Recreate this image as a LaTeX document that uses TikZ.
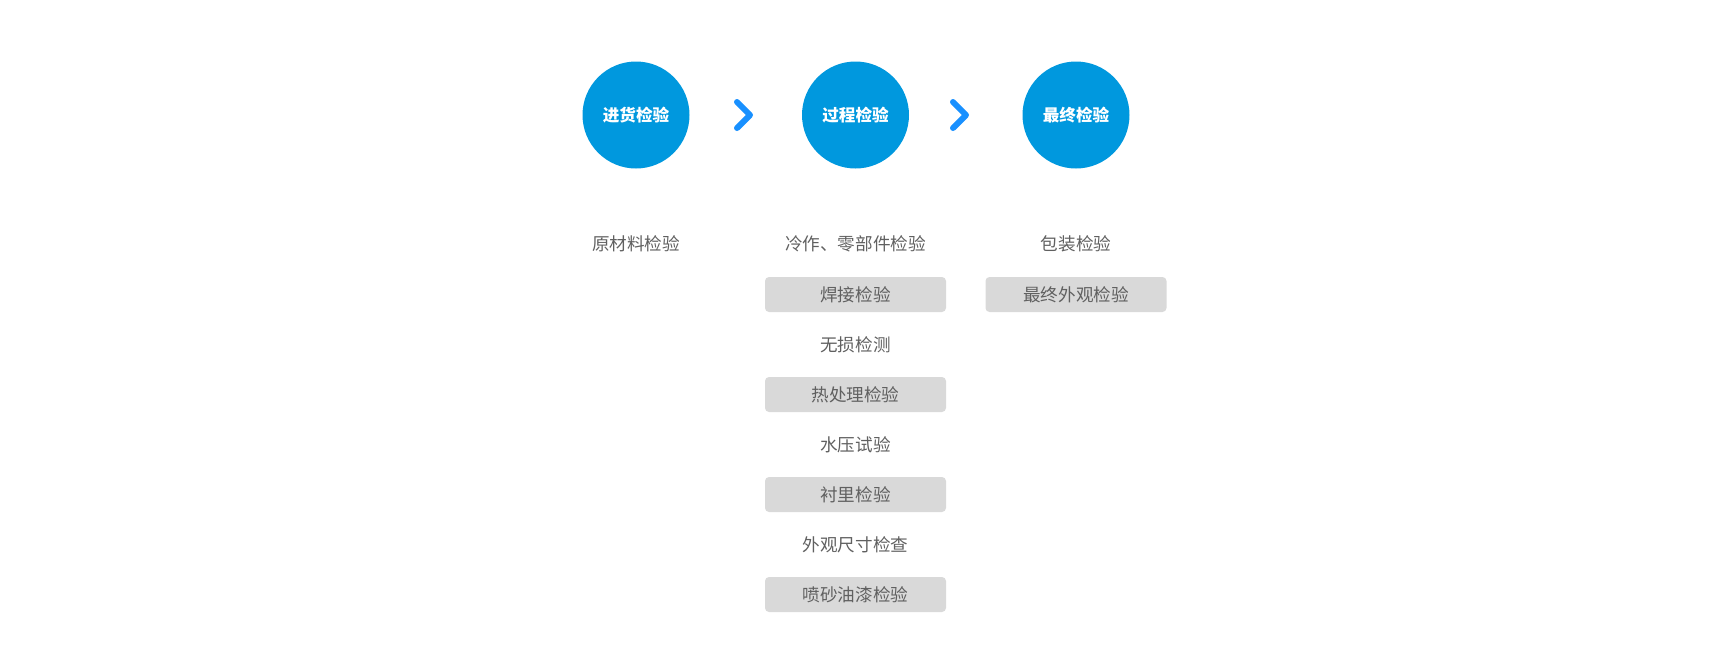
\documentclass[tikz,border=0pt]{standalone}
\usepackage{fontspec}
\setmainfont{Noto Sans CJK SC}
\usetikzlibrary{positioning}
\definecolor{stageblue}{RGB}{0,152,222}
\definecolor{arrowblue}{RGB}{24,144,255}
\definecolor{itemgray}{RGB}{217,217,217}
\definecolor{textgray}{RGB}{96,96,96}
\begin{document}
\begin{tikzpicture}[x=.5pt, y=-.5pt,
stage/.style={circle, fill=stageblue, minimum size=53.5pt, inner sep=0pt, text=white, font=\fontsize{8.3}{10}\selectfont\bfseries},
item/.style={text=textgray, font=\fontsize{8.8}{11}\selectfont},
itembox/.style={item, fill=itemgray, rounded corners=2pt, minimum width=90.5pt, minimum height=17.5pt, inner sep=0pt},
chevron/.style={arrowblue, line width=3pt, line cap=round, line join=round}]
\useasboundingbox (0,0) rectangle (1710,660);
\node[stage] (incoming) at (636,115) {进货检验};
\node[stage] (process) at (855.5,115) {过程检验};
\node[stage] (final) at (1076,115) {最终检验};
\coordinate (chev1) at (743.5,115);
\coordinate (chev2) at (959.5,115);
\draw[chevron] (chev1) ++(-6.5,-13) -- ++(13,13) -- ++(-13,13);
\draw[chevron] (chev2) ++(-6.5,-13) -- ++(13,13) -- ++(-13,13);
\node[item] (raw) at (636,244) {原材料检验};
\node[item] (cold) at (855.5,244) {冷作、零部件检验};
\node[itembox] (weld) at (855.5,294.5) {焊接检验};
\node[item] (ndt) at (855.5,344.5) {无损检测};
\node[itembox] (heat) at (855.5,394.5) {热处理检验};
\node[item] (hydro) at (855.5,444.5) {水压试验};
\node[itembox] (lining) at (855.5,494.5) {衬里检验};
\node[item] (size) at (855.5,544.5) {外观尺寸检查};
\node[itembox] (paint) at (855.5,594.5) {喷砂油漆检验};
\node[item] (pack) at (1076,244) {包装检验};
\node[itembox] (look) at (1076,294.5) {最终外观检验};
\end{tikzpicture}
\end{document}
